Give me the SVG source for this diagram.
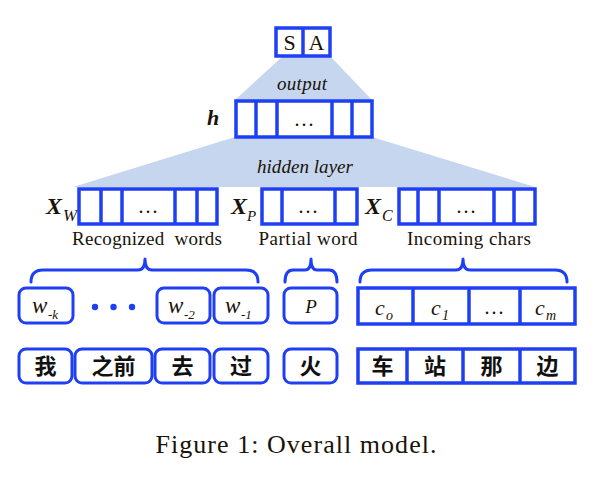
<svg xmlns="http://www.w3.org/2000/svg" width="597" height="485" viewBox="0 0 597 485">
<style>
.b{fill:#fff;stroke:#1f3ff5;stroke-width:3.5}
.bl{stroke:#1f3ff5;stroke-width:3.5;fill:none}
.rb{fill:#fff;stroke:#1f3ff5;stroke-width:3}
.br{fill:none;stroke:#1f3ff5;stroke-width:3;stroke-linecap:round;stroke-linejoin:round}
.trap{fill:#c6d6ef}
.t{font-family:"Liberation Serif",serif;fill:#1a1208}
.it{font-family:"Liberation Serif",serif;font-style:italic;fill:#1a1208}
.bi{font-family:"Liberation Serif",serif;font-style:italic;font-weight:bold;fill:#1a1208}
.zh{font-family:"Noto Sans CJK SC",sans-serif;font-weight:bold;font-size:22px;fill:#111;text-anchor:middle}
.dots{font-family:"Liberation Serif",serif;font-size:20px;fill:#111;text-anchor:middle;letter-spacing:2px}
</style>
<rect width="597" height="485" fill="#fff"/>
<g id="trapezoids">
<polygon class="trap" points="283,56 330,56 372,100 235,100"/>
<polygon class="trap" points="235,137 372,137 535,187 73,187"/>
<text class="it" x="302" y="90" font-size="19" text-anchor="middle" textLength="50">output</text>
<text class="it" x="305" y="173" font-size="19" text-anchor="middle" textLength="96">hidden layer</text>
</g>
<g id="sa">
<rect class="b" x="276" y="28" width="54" height="28"/>
<line class="bl" x1="303" y1="28" x2="303" y2="56"/>
<text class="t" x="289.5" y="50" font-size="22" text-anchor="middle">S</text>
<text class="t" x="316.5" y="50" font-size="22" text-anchor="middle">A</text>
</g>
<g id="h">
<text class="bi" x="213" y="125" font-size="22" text-anchor="middle">h</text>
<rect class="b" x="236" y="101" width="136" height="36"/>
<line class="bl" x1="256" y1="101" x2="256" y2="137"/>
<line class="bl" x1="277" y1="101" x2="277" y2="137"/>
<line class="bl" x1="332" y1="101" x2="332" y2="137"/>
<line class="bl" x1="352" y1="101" x2="352" y2="137"/>
<text class="dots" x="305" y="126">...</text>
</g>
<g id="xw">
<text class="bi" x="46" y="214" font-size="24">X</text>
<text class="it" x="63" y="221" font-size="17">W</text>
<rect class="b" x="79" y="189" width="138" height="35"/>
<line class="bl" x1="101" y1="189" x2="101" y2="224"/>
<line class="bl" x1="122" y1="189" x2="122" y2="224"/>
<line class="bl" x1="175" y1="189" x2="175" y2="224"/>
<line class="bl" x1="197" y1="189" x2="197" y2="224"/>
<text class="dots" x="149" y="213">...</text>
<text class="t" x="147" y="245" font-size="19" text-anchor="middle" textLength="150" xml:space="preserve">Recognized  words</text>
</g>
<g id="xp">
<text class="bi" x="231" y="214" font-size="24">X</text>
<text class="it" x="247" y="221" font-size="15">P</text>
<rect class="b" x="262" y="189" width="95" height="35"/>
<line class="bl" x1="282" y1="189" x2="282" y2="224"/>
<line class="bl" x1="335" y1="189" x2="335" y2="224"/>
<text class="dots" x="309" y="213">...</text>
<text class="t" x="308" y="245" font-size="19" text-anchor="middle" textLength="99">Partial word</text>
</g>
<g id="xc">
<text class="bi" x="365" y="214" font-size="24">X</text>
<text class="it" x="382" y="221" font-size="16">C</text>
<rect class="b" x="399" y="189" width="136" height="35"/>
<line class="bl" x1="418" y1="189" x2="418" y2="224"/>
<line class="bl" x1="439" y1="189" x2="439" y2="224"/>
<line class="bl" x1="494" y1="189" x2="494" y2="224"/>
<line class="bl" x1="514" y1="189" x2="514" y2="224"/>
<text class="dots" x="467" y="213">...</text>
<text class="t" x="469" y="245" font-size="19" text-anchor="middle" textLength="124">Incoming chars</text>
</g>
<g id="connectors">
<path class="br" d="M31,282 Q31,270 43,270 L138,270 Q145,270 145,259 Q145,270 152,270 L246,270 Q258,270 258,282"/>
<path class="br" d="M285,282 Q285,270 293,270 L305,270 Q311,270 311,259 Q311,270 317,270 L329,270 Q337,270 337,282"/>
<path class="br" d="M360,282 Q360,270 372,270 L456,270 Q463,270 463,259 Q463,270 470,270 L555,270 Q567,270 567,282"/>
</g>
<g id="words">
<rect class="rb" x="19" y="288" width="54" height="35" rx="7"/>
<text class="it" x="32" y="313" font-size="23">w</text>
<text class="it" x="48" y="319" font-size="13">-k</text>
<circle cx="95" cy="307" r="3.2" fill="#1f3ff5"/>
<circle cx="113.5" cy="307" r="3.2" fill="#1f3ff5"/>
<circle cx="132" cy="307" r="3.2" fill="#1f3ff5"/>
<rect class="rb" x="157" y="288" width="53" height="35" rx="7"/>
<text class="it" x="168" y="313" font-size="23">w</text>
<text class="it" x="184" y="319" font-size="13">-2</text>
<rect class="rb" x="214" y="288" width="54" height="35" rx="7"/>
<text class="it" x="225" y="313" font-size="23">w</text>
<text class="it" x="241" y="319" font-size="13">-1</text>
</g>
<g id="partial">
<rect class="rb" x="284" y="288" width="53" height="35" rx="7"/>
<text class="it" x="311" y="313" font-size="19" text-anchor="middle">P</text>
</g>
<g id="chars">
<rect class="b" x="358" y="288" width="217" height="36"/>
<line class="bl" x1="413" y1="288" x2="413" y2="324"/>
<line class="bl" x1="469" y1="288" x2="469" y2="324"/>
<line class="bl" x1="520" y1="288" x2="520" y2="324"/>
<text class="it" x="375" y="315" font-size="22">c</text>
<text class="it" x="386" y="320" font-size="14">o</text>
<text class="it" x="431" y="315" font-size="22">c</text>
<text class="it" x="442" y="320" font-size="14">1</text>
<text class="dots" x="495" y="314">...</text>
<text class="it" x="535" y="315" font-size="22">c</text>
<text class="it" x="546" y="320" font-size="14">m</text>
</g>
<g id="row2">
<rect class="rb" x="19" y="349" width="53" height="34" rx="7"/>
<text class="zh" x="45.5" y="374">我</text>
<rect class="rb" x="75" y="349" width="77" height="34" rx="7"/>
<text class="zh" x="113.5" y="374">之前</text>
<rect class="rb" x="155" y="349" width="55" height="34" rx="7"/>
<text class="zh" x="182.5" y="374">去</text>
<rect class="rb" x="214" y="349" width="54" height="34" rx="7"/>
<text class="zh" x="241" y="374">过</text>
<rect class="rb" x="284" y="349" width="53" height="34" rx="7"/>
<text class="zh" x="310.5" y="374">火</text>
<rect class="b" x="358" y="349" width="217" height="34"/>
<line class="bl" x1="407" y1="349" x2="407" y2="383"/>
<line class="bl" x1="463" y1="349" x2="463" y2="383"/>
<line class="bl" x1="520" y1="349" x2="520" y2="383"/>
<text class="zh" x="382.5" y="374">车</text>
<text class="zh" x="435" y="374">站</text>
<text class="zh" x="491.5" y="374">那</text>
<text class="zh" x="547.5" y="374">边</text>
</g>
<text class="t" x="296" y="453" font-size="26" text-anchor="middle" textLength="281">Figure 1: Overall model.</text>
</svg>
